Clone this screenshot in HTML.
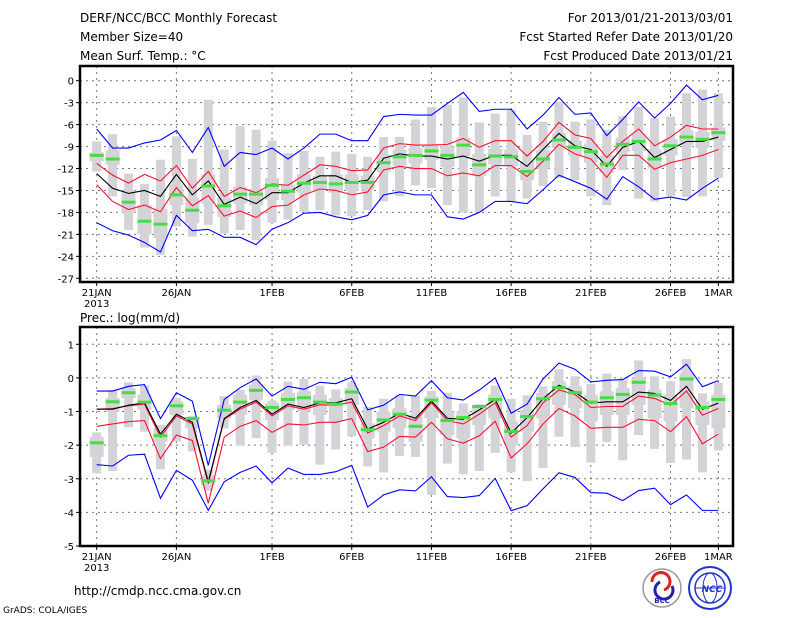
<!DOCTYPE html>
<html><head><meta charset="utf-8">
<style>
body{margin:0;background:#fff;}
svg{display:block;font-family:"DejaVu Sans","Liberation Sans",sans-serif;}
.t{font-size:12px;fill:#000;}
.tk{font-size:10px;fill:#000;}
</style></head>
<body>
<svg id="chart" width="800" height="618" viewBox="0 0 800 618">
<text class="t" x="80" y="22">DERF/NCC/BCC Monthly Forecast</text>
<text class="t" x="80" y="41">Member Size=40</text>
<text class="t" x="80" y="60">Mean Surf. Temp.: °C</text>
<text class="t" x="733" y="22" text-anchor="end">For 2013/01/21-2013/03/01</text>
<text class="t" x="733" y="41" text-anchor="end">Fcst Started Refer Date 2013/01/20</text>
<text class="t" x="733" y="60" text-anchor="end">Fcst Produced Date 2013/01/21</text>
<text class="t" x="80" y="322">Prec.: log(mm/d)</text>
<text class="t" x="74" y="595">http://cmdp.ncc.cma.gov.cn</text>
<text x="3" y="613" style="font-size:9px">GrADS: COLA/IGES</text>
<g>
<circle cx="662" cy="588" r="19" fill="#fff" stroke="#999" stroke-width="1.5"/>
<path d="M652 582 a9 9 0 1 1 12 8" fill="none" stroke="#d22" stroke-width="3"/>
<path d="M672 586 a9 9 0 1 1 -12 -4" fill="none" stroke="#22a" stroke-width="3"/>
<text x="662" y="603" text-anchor="middle" style="font-size:7px;font-weight:bold" fill="#22a">BCC</text>
</g>
<g>
<circle cx="710" cy="588" r="21" fill="#fff" stroke="#2233cc" stroke-width="2"/>
<circle cx="710" cy="588" r="15" fill="none" stroke="#2233cc" stroke-width="1.5"/>
<ellipse cx="710" cy="588" rx="7" ry="15" fill="none" stroke="#2233cc" stroke-width="1"/>
<line x1="695" y1="588" x2="725" y2="588" stroke="#2233cc"/>
<text x="712" y="592" text-anchor="middle" style="font-size:9px;font-weight:bold;font-style:italic" fill="#2233cc">NCC</text>
</g>
</svg>
<script>
const days = ["21JAN","26JAN","1FEB","6FEB","11FEB","16FEB","21FEB","26FEB","1MAR"];
const dayIdx = [0,5,11,16,21,26,31,36,39];
const tTicks = [0,-3,-6,-9,-12,-15,-18,-21,-24,-27];
const pTicks = [1,0,-1,-2,-3,-4,-5];
// Temperature
const tMean = [-12.7,-14.7,-15.4,-15.0,-15.8,-12.8,-15.6,-13.7,-16.9,-15.9,-16.8,-15.3,-15.3,-14.0,-13.0,-13.0,-13.9,-13.6,-10.6,-10.0,-10.3,-10.3,-10.7,-10.3,-11.0,-10.2,-10.2,-11.7,-9.4,-7.2,-8.9,-9.4,-11.7,-9.1,-8.3,-10.5,-9.4,-8.3,-8.3,-7.7];
const tRedHi = [-11.3,-12.9,-14.0,-12.8,-13.7,-11.6,-14.7,-12.4,-15.8,-14.6,-15.3,-14.1,-14.3,-12.9,-11.5,-11.7,-12.3,-12.2,-9.2,-8.6,-8.8,-8.8,-8.7,-7.9,-9.1,-8.2,-8.2,-10.3,-8.3,-5.7,-7.4,-7.9,-10.5,-8.3,-6.6,-8.9,-7.7,-6.1,-6.6,-6.6];
const tRedLo = [-14.2,-16.5,-17.6,-17.0,-17.9,-14.6,-17.1,-15.7,-18.5,-17.8,-18.7,-17.2,-17.0,-15.6,-14.8,-15.0,-15.6,-15.2,-12.2,-11.7,-12.0,-12.0,-13.0,-12.6,-13.0,-11.6,-11.6,-13.1,-11.0,-8.7,-10.0,-10.7,-13.2,-10.2,-10.2,-12.1,-11.2,-10.7,-10.2,-9.4];
const tBlueHi = [-6.6,-9.2,-9.2,-8.5,-8.1,-6.8,-9.8,-6.4,-11.7,-9.8,-10.1,-9.2,-10.7,-9.2,-7.3,-7.3,-8.2,-8.2,-4.9,-4.6,-4.7,-4.7,-3.1,-1.6,-4.2,-3.9,-3.9,-6.6,-4.7,-2.3,-4.6,-4.4,-7.5,-5.3,-2.9,-5.1,-3.1,-0.6,-2.6,-2.0];
const tBlueLo = [-19.4,-20.5,-21.1,-22.1,-23.4,-18.4,-20.5,-20.3,-21.4,-21.4,-22.4,-20.3,-19.4,-18.1,-18.0,-18.6,-19.0,-18.4,-15.6,-15.2,-15.6,-15.6,-18.6,-18.9,-18.0,-16.5,-16.5,-16.8,-14.9,-12.9,-13.8,-14.7,-16.2,-13.1,-14.5,-16.2,-15.9,-16.3,-14.7,-13.3];
const tGreen = [-10.2,-10.7,-16.6,-19.2,-19.6,-15.6,-17.7,-14.4,-17.1,-15.5,-15.5,-14.3,-15.1,-14.0,-13.9,-14.1,-13.9,-13.9,-11.2,-10.4,-10.2,-9.6,-10.2,-8.8,-11.5,-10.3,-10.4,-12.4,-10.7,-8.1,-9.1,-9.7,-11.4,-8.7,-8.3,-10.7,-8.9,-7.7,-8.0,-7.1];
const tMax = [-8.3,-7.3,-12.7,-14.1,-10.8,-7.6,-10.7,-2.6,-9.4,-6.2,-6.7,-8.2,-9.9,-9.6,-10.4,-9.7,-10.0,-10.4,-7.7,-7.7,-5.3,-3.6,-3.3,-2.3,-5.7,-4.5,-4.0,-7.4,-5.6,-2.9,-5.6,-5.3,-6.7,-4.8,-3.6,-5.1,-4.9,-1.7,-1.2,-1.7];
const tMin = [-12.4,-15.8,-20.4,-22.8,-23.8,-19.9,-21.3,-19.7,-20.9,-20.4,-21.8,-19.4,-19.0,-17.9,-17.7,-18.4,-18.5,-17.7,-16.5,-15.8,-14.3,-14.7,-17.0,-18.0,-17.9,-15.8,-16.5,-16.1,-14.4,-13.3,-13.6,-15.8,-17.0,-12.2,-16.1,-16.5,-15.8,-15.9,-15.8,-13.3];
const tQ3 = [-9.8,-9.5,-15.0,-17.0,-17.5,-14.2,-16.0,-12.8,-16.0,-14.5,-14.8,-13.3,-14.2,-12.8,-13.0,-12.8,-12.8,-13.0,-10.2,-9.4,-9.2,-8.8,-9.0,-7.8,-10.0,-9.3,-9.4,-11.0,-9.5,-7.2,-8.2,-8.6,-10.2,-7.8,-7.3,-9.4,-8.0,-6.8,-7.0,-6.4];
const tQ1 = [-11.0,-11.5,-18.0,-21.0,-21.5,-17.0,-19.5,-16.8,-18.6,-16.8,-17.0,-16.3,-16.3,-15.3,-15.0,-15.3,-15.0,-14.9,-12.5,-11.6,-11.3,-10.8,-11.8,-10.3,-13.0,-11.4,-11.7,-13.6,-12.0,-9.2,-10.2,-11.2,-12.6,-9.8,-9.6,-12.0,-10.2,-8.8,-9.2,-8.2];
// Precipitation
const pMean = [-0.93,-0.93,-0.81,-0.74,-1.67,-1.08,-1.32,-3.09,-1.21,-0.88,-0.67,-1.08,-0.78,-0.88,-0.74,-0.74,-0.62,-1.52,-1.32,-1.05,-1.2,-0.69,-1.2,-1.23,-0.95,-0.64,-1.64,-1.18,-0.62,-0.22,-0.42,-0.75,-0.71,-0.71,-0.42,-0.46,-0.67,-0.25,-0.93,-0.75];
const pRedHi = [-0.93,-0.91,-0.83,-0.78,-1.76,-1.13,-1.37,-3.14,-1.23,-0.93,-0.72,-1.13,-0.83,-0.93,-0.80,-0.81,-0.72,-1.64,-1.42,-1.13,-1.27,-0.74,-1.27,-1.37,-1.08,-0.74,-1.76,-1.42,-0.74,-0.36,-0.49,-0.88,-0.85,-0.85,-0.54,-0.61,-0.81,-0.39,-1.11,-0.91];
const pRedLo = [-1.44,-1.37,-1.30,-1.27,-2.40,-1.70,-1.86,-3.73,-1.76,-1.44,-1.27,-1.62,-1.37,-1.40,-1.32,-1.32,-1.21,-2.19,-2.06,-1.74,-1.76,-1.32,-1.81,-1.94,-1.72,-1.29,-2.38,-1.96,-1.37,-0.91,-1.13,-1.50,-1.47,-1.47,-1.23,-1.27,-1.60,-1.15,-1.96,-1.67];
const pBlueHi = [-0.39,-0.39,-0.25,-0.20,-1.21,-0.44,-0.69,-2.60,-0.64,-0.29,-0.03,-0.54,-0.25,-0.34,-0.13,-0.17,0.02,-0.95,-0.81,-0.49,-0.54,-0.08,-0.59,-0.66,-0.36,0.0,-1.05,-0.78,-0.03,0.44,0.26,-0.12,-0.07,-0.05,0.22,0.20,0.03,0.41,-0.26,-0.08];
const pBlueLo = [-2.58,-2.62,-2.30,-2.27,-3.58,-2.75,-3.04,-3.94,-3.09,-2.81,-2.62,-3.12,-2.68,-2.87,-2.87,-2.79,-2.60,-3.84,-3.48,-3.33,-3.36,-2.94,-3.53,-3.56,-3.50,-2.99,-3.95,-3.80,-3.30,-2.82,-2.96,-3.41,-3.43,-3.65,-3.35,-3.28,-3.77,-3.48,-3.94,-3.94];
const pGreen = [-1.93,-0.71,-0.44,-0.72,-1.72,-0.83,-1.21,-3.06,-0.96,-0.72,-0.37,-0.88,-0.64,-0.59,-0.72,-0.78,-0.42,-1.54,-1.25,-1.08,-1.44,-0.66,-1.27,-1.18,-0.85,-0.64,-1.59,-1.15,-0.62,-0.29,-0.44,-0.72,-0.59,-0.49,-0.13,-0.51,-0.76,-0.03,-0.88,-0.64];
const pMax = [-1.62,-0.36,-0.13,-0.23,-1.40,-0.59,-1.13,-2.73,-0.54,-0.36,0.07,-0.67,-0.11,-0.03,-0.23,-0.34,-0.13,-0.86,-0.62,-0.52,-0.52,-0.39,-0.44,-0.76,-0.78,-0.23,-0.62,-0.52,-0.25,0.26,0.05,-0.18,0.13,-0.05,0.52,0.05,-0.10,0.56,-0.46,-0.15];
const pMin = [-2.84,-2.77,-1.47,-1.60,-2.72,-1.89,-2.19,-3.36,-1.50,-2.01,-1.79,-2.23,-2.01,-1.99,-2.58,-2.13,-1.74,-2.63,-2.81,-2.32,-2.35,-3.48,-2.55,-2.87,-2.77,-2.23,-2.81,-3.07,-2.68,-1.75,-2.06,-2.52,-1.91,-2.45,-1.70,-2.11,-2.53,-2.43,-2.81,-2.16];
const pQ3 = [-1.75,-0.6,-0.3,-0.5,-1.5,-0.7,-1.2,-2.9,-0.8,-0.5,-0.2,-0.75,-0.45,-0.4,-0.5,-0.6,-0.3,-1.35,-1.0,-0.9,-1.1,-0.55,-1.0,-1.0,-0.8,-0.5,-1.3,-0.95,-0.45,-0.1,-0.25,-0.5,-0.4,-0.3,0.0,-0.35,-0.5,0.15,-0.7,-0.5];
const pQ1 = [-2.35,-1.0,-0.6,-0.95,-1.9,-1.1,-1.5,-3.2,-1.2,-1.1,-0.65,-1.25,-0.95,-1.0,-1.1,-1.3,-0.8,-1.8,-1.6,-1.5,-1.9,-1.2,-1.7,-1.8,-1.4,-1.2,-2.0,-1.6,-1.2,-0.8,-0.9,-1.3,-1.1,-1.1,-0.8,-1.2,-1.3,-0.9,-1.4,-1.5];

const NS="http://www.w3.org/2000/svg";
const svg=document.getElementById('chart');
const X=i=>96.7+15.94*i;
function mk(tag,attrs,parent){const e=document.createElementNS(NS,tag);for(const k in attrs)e.setAttribute(k,attrs[k]);(parent||svg).appendChild(e);return e;}

function panel(cfg){
  const g=mk('g',{});
  
  
  const Y=v=>cfg.y0+(v-cfg.v0)*(cfg.y1-cfg.y0)/(cfg.v1-cfg.v0);
  // grid
  cfg.ticks.forEach(v=>{
    const y=Y(v);
    const gl=mk('line',{x1:80,x2:733,y1:y,y2:y,stroke:'#777','stroke-dasharray':'2,4','stroke-width':1},g);
    
    
    mk('line',{x1:76,x2:80,y1:y,y2:y,stroke:'#000'},g);
    const t=mk('text',{x:74,y:y+4,'text-anchor':'end',class:'tk'},g);
    t.textContent=v;
    
    
  });
  dayIdx.forEach((d,k)=>{
    const x=X(d);
    const gl=mk('line',{x1:x,x2:x,y1:cfg.top,y2:cfg.bot,stroke:'#777','stroke-dasharray':'2,4'},g);
    
    
    mk('line',{x1:x,x2:x,y1:cfg.bot,y2:cfg.bot+4,stroke:'#000'},g);
    const t=mk('text',{x:x,y:cfg.bot+14,'text-anchor':'middle',class:'tk'},g);
    t.textContent=days[k];
    
    
  });
  const yr=mk('text',{x:X(0),y:cfg.bot+25,'text-anchor':'middle',class:'tk'},g);
  yr.textContent='2013';
  
  
  // boxes
  const d=cfg.data;
  d.mx.forEach((v,i)=>{
    const x=X(i);
    const w=mk('rect',{x:x-4.5,y:Y(v),width:9,height:Y(d.mn[i])-Y(v),fill:'#d4d4d8'},g);
    
    
    const b=mk('rect',{x:x-7,y:Y(d.q3[i]),width:14,height:Y(d.q1[i])-Y(d.q3[i]),fill:'#d4d4d8'},g);
    
    
  });
  const line=(arr,col,name)=>{
    const p=mk('polyline',{points:arr.map((v,i)=>X(i)+','+Y(v)).join(' '),fill:'none',stroke:col,'stroke-width':1.1},g);
    
    
  };
  line(d.bh,'#0000ff','blue-upper-line');
  line(d.bl,'#0000ff','blue-lower-line');
  line(d.rh,'#ff1030','red-upper-line');
  line(d.rl,'#ff1030','red-lower-line');
  line(d.m,'#000','ensemble-mean-line');
  d.gr.forEach((v,i)=>{
    const r=mk('rect',{x:X(i)-7,y:Y(v)-1.5,width:14,height:3,fill:'#44dd44'},g);
    
    
  });
  const f=mk('rect',{x:80,y:cfg.top,width:653,height:cfg.bot-cfg.top,fill:'none',stroke:'#000','stroke-width':2.5},g);
  
  
}
panel({name:'temperature-panel',top:66,bot:282,y0:80.7,v0:0,y1:278.3,v1:-27,ticks:tTicks,
  data:{m:tMean,rh:tRedHi,rl:tRedLo,bh:tBlueHi,bl:tBlueLo,gr:tGreen,mx:tMax,mn:tMin,q3:tQ3,q1:tQ1}});
panel({name:'precipitation-panel',top:327,bot:546,y0:344.3,v0:1,y1:546,v1:-5,ticks:pTicks,
  data:{m:pMean,rh:pRedHi,rl:pRedLo,bh:pBlueHi,bl:pBlueLo,gr:pGreen,mx:pMax,mn:pMin,q3:pQ3,q1:pQ1}});
</script>
</body></html>
